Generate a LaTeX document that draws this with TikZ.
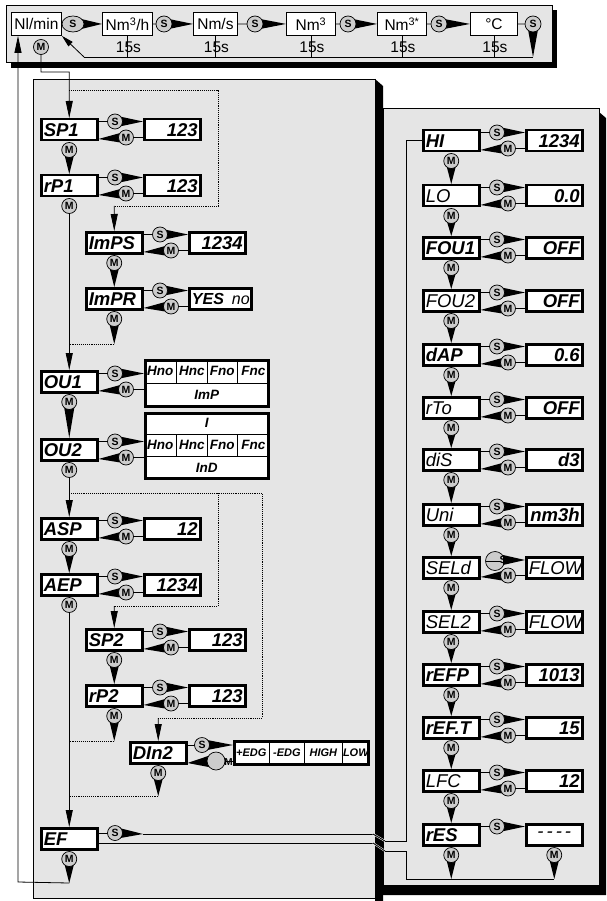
\documentclass[tikz,border=0pt]{standalone}
\usepackage{fontspec}
\setmainfont{Liberation Sans}
\usetikzlibrary{arrows.meta,calc,shapes.geometric}
\definecolor{panel}{gray}{0.9}
\definecolor{bub}{gray}{0.8}
\newcommand\lcdfont{\fontsize{18.5}{18.5}\selectfont\bfseries\itshape}
\newcommand\cellfont{\fontsize{13.5}{13.5}\selectfont\bfseries\itshape}
\newcommand\dcellfont{\fontsize{11}{11}\selectfont\bfseries\itshape}
\newcommand\cone[3][6pt]{\fill ($(#2)!#1!90:(#3)$) -- (#3) -- ($(#2)!#1!-90:(#3)$) -- cycle;}
\tikzset{
 conn/.style={line width=0.8pt},
 arr/.style={line width=0.8pt, -{Triangle[length=17pt,width=7pt]}},
 dots/.style={line width=0.9pt, densely dotted},
 lbox/.style={draw, line width=2.5pt, fill=white, minimum width=56pt, minimum height=21pt, inner sep=0pt, text width=51pt, align=left, font=\lcdfont, anchor=north west},
 vbox/.style={lbox, align=right},
 cell/.style={draw, line width=0.7pt, fill=white, inner sep=0pt, font=\cellfont, anchor=north west},
 obox/.style={draw, line width=2.5pt, inner sep=0pt, anchor=north west},
 circ/.style={circle, draw, line width=0.7pt, fill=bub, minimum size=15pt, inner sep=0pt, font=\fontsize{10.5}{10.5}\selectfont\bfseries},
 tbox/.style={draw, line width=0.9pt, fill=white, minimum height=23pt, inner sep=0pt, font=\fontsize{15.5}{15.5}\selectfont, anchor=north west},
 tlab/.style={font=\fontsize{15.5}{15.5}\selectfont, inner sep=0pt},
 brk/.style={white, line width=0.5pt, double=black, double distance=0.9pt},
}
% S/M connectors between a left box and its value box
\newcommand\conns[4]{%
 \coordinate (#1sc) at ({#3+75},{#4+3.5});
 \coordinate (#1mc) at ({#3+86},{#4+19.5});
 \draw[conn] (#1.east |- #1sc) -- (#1sc);
 \cone{#1sc}{#2.west |- #1sc}
 \draw[conn] (#2.west |- #1mc) -- (#1mc);
 \coordinate (#1mt) at ($(#1.east |- #1mc)+(0,1.5)$);
 \cone{#1mc}{#1mt}
 \node[circ] (#1s) at (#1sc) {S};
 \node[circ] (#1m) at (#1mc) {M};
}
\newcommand\srow[5]{%
 \node[lbox] (#1) at (#2,#3) {#4};
 \node[vbox] (#1v) at ({#2+103},#3) {#5};
 \conns{#1}{#1v}{#2}{#3}
}
% vertical M cone from one box to the next
\newcommand\vm[3]{%
 \coordinate (#1c) at ($(#2.south)+(0,8.5)$);
 \cone{#1c}{#1c |- #3.north}
 \node[circ] (#1) at (#1c) {M};
}
% vertical M with a line and arrow to a box
\newcommand\ma[3]{%
 \coordinate (#1c) at ($(#2.south)+(0,8.5)$);
 \node[circ] (#1) at (#1c) {M};
 \draw[arr] (#1.south) -- (#1c |- #3.north);
}
% vertical M cone of given length
\newcommand\mt[3]{%
 \coordinate (#1c) at ($(#2.south)+(0,8.5)$);
 \coordinate (#1t) at ($(#1c)+(0,#3)$);
 \cone{#1c}{#1t}
 \node[circ] (#1) at (#1c) {M};
}
\begin{document}
\begin{tikzpicture}[x=1pt,y=-1pt]
\useasboundingbox (0,0) rectangle (606,901);
\fill[white] (0,0) rectangle (606,901);
% ---- top bar
\fill (11,10) rectangle (557,68);
\draw[line width=0.8pt, fill=panel] (6,5) rectangle (552,62);
% ---- panels
\fill (599,112) -- (606,118) -- (606,895) -- (383,895) -- (383,885) -- (599,885) -- cycle;
\draw[line width=0.8pt, fill=panel] (383,108) rectangle (599,885);
\draw[line width=0.8pt, fill=panel] (33,79) rectangle (375,898);
\fill (375,79) -- (383,86) -- (383,901) -- (375,901) -- cycle;

% ---- top bar content
\node[tbox, minimum width=50pt] (nlm) at (11,12) {Nl/min};
\node[tbox, minimum width=50pt] (nmh) at (102,12) {Nm\textsuperscript{3}/h};
\node[tbox, minimum width=44pt] (nms) at (193,12) {Nm/s};
\node[tbox, minimum width=49pt] (nm3) at (286,12) {Nm\textsuperscript{3}};
\node[tbox, minimum width=49pt] (nms3) at (377,12) {Nm\textsuperscript{3*}};
\node[tbox, minimum width=47pt] (degc) at (470,12) {°C};

\coordinate (s1c) at (73,24);
\cone[7pt]{s1c}{nmh.west}
\node[ellipse, draw, line width=0.7pt, fill=bub, minimum width=22pt, minimum height=16pt, inner sep=0pt, font=\fontsize{10.5}{10.5}\selectfont\bfseries] (s1) at (s1c) {S};
\coordinate (s2c) at (164,24);
\draw[conn] (nmh.east) -- (s2c); \cone{s2c}{nms.west}
\node[circ, minimum size=16pt] (s2) at (s2c) {S};
\coordinate (s3c) at (255,24);
\draw[conn] (nms.east) -- (s3c); \cone{s3c}{nm3.west}
\node[circ, minimum size=16pt] (s3) at (s3c) {S};
\coordinate (s4c) at (348,24);
\draw[conn] (nm3.east) -- (s4c); \cone{s4c}{nms3.west}
\node[circ, minimum size=16pt] (s4) at (s4c) {S};
\coordinate (s5c) at (439,24);
\draw[conn] (nms3.east) -- (s5c); \cone{s5c}{degc.west}
\node[circ, minimum size=16pt] (s5) at (s5c) {S};
\coordinate (s6c) at (533,24);
\coordinate (fb1) at (533,57);
\coordinate (fb2) at (84,57);
\draw[conn] (degc.east) -- (s6c);
\cone{s6c}{fb1}
\node[circ, minimum size=16pt] (s6) at (s6c) {S};
\draw[conn] (fb1) -- (fb2);
\draw[conn, -{Triangle[length=12pt,width=6pt]}] (fb2) -- (nlm.south east);
\foreach \b in {nmh,nms,nm3,nms3,degc}{
  \draw[conn] (\b.south) -- (\b.south |- fb1);
  \node[tlab] at ($(\b.south)+(1,11)$) {15s};
}
\node[circ] (nlmm) at (41,47) {M};

% ---- left panel boxes
\srow{sp1}{40}{118}{SP1}{123}
\srow{rp1}{40}{174}{rP1}{123}
\srow{imps}{85}{231}{ImPS}{1234}
\node[lbox] (impr) at (85,287) {ImPR};
\node[vbox, minimum width=62pt, text width=59pt, font=\fontsize{16}{16}\selectfont\bfseries\itshape] (imprv) at (188,287) {YES\hspace{8pt}\mdseries no};
\conns{impr}{imprv}{85}{287}

% OU1
\node[lbox] (ou1) at (40,370) {OU1};
\node[cell, minimum width=32pt, minimum height=24pt] (ou1a) at (144,359) {Hno};
\node[cell, minimum width=31pt, minimum height=24pt] (ou1b) at (176,359) {Hnc};
\node[cell, minimum width=30pt, minimum height=24pt] (ou1c) at (207,359) {Fno};
\node[cell, minimum width=32pt, minimum height=24pt] (ou1d) at (237,359) {Fnc};
\node[cell, minimum width=125pt, minimum height=24pt] (ou1e) at (144,383) {ImP};
\node[obox, minimum width=123pt, minimum height=46pt] (ou1o) at (144,359) {};
\conns{ou1}{ou1o}{40}{370}

% OU2
\node[lbox] (ou2) at (40,438) {OU2};
\node[cell, minimum width=125pt, minimum height=22pt] (ou2a) at (144,412) {I};
\node[cell, minimum width=32pt, minimum height=22pt] (ou2b) at (144,434) {Hno};
\node[cell, minimum width=31pt, minimum height=22pt] (ou2c) at (176,434) {Hnc};
\node[cell, minimum width=30pt, minimum height=22pt] (ou2d) at (207,434) {Fno};
\node[cell, minimum width=32pt, minimum height=22pt] (ou2e) at (237,434) {Fnc};
\node[cell, minimum width=125pt, minimum height=23pt] (ou2f) at (144,456) {InD};
\node[obox, minimum width=123pt, minimum height=65pt] (ou2o) at (144,412) {};
\conns{ou2}{ou2o}{40}{438}

\srow{asp}{40}{517}{ASP}{12}
\srow{aep}{40}{573}{AEP}{1234}
\srow{sp2}{85}{628}{SP2}{123}
\srow{rp2}{85}{684}{rP2}{123}

% DIn2
\node[lbox] (din2) at (129,741) {DIn2};
\node[cell, minimum width=36pt, minimum height=25pt, font=\dcellfont] (din2a) at (233,740) {+EDG};
\node[cell, minimum width=35pt, minimum height=25pt, font=\dcellfont] (din2b) at (269,740) {-EDG};
\node[cell, minimum width=38pt, minimum height=25pt, font=\dcellfont] (din2c) at (304,740) {HIGH};
\node[cell, minimum width=27pt, minimum height=25pt, font=\dcellfont] (din2d) at (342,740) {LOW};
\node[obox, minimum width=134pt, minimum height=23pt] (din2o) at (233,740) {};
\coordinate (din2sc) at (202,745);
\coordinate (din2mc) at (216,761);
\draw[conn] (din2.east |- din2sc) -- (din2sc);
\cone{din2sc}{din2o.west |- din2sc}
\draw[conn] (din2o.west |- din2mc) -- (din2mc);
\coordinate (din2mt) at ($(din2.east |- din2mc)+(0,2)$);
\cone[7.5pt]{din2mc}{din2mt}
\node[circ] (din2s) at (din2sc) {S};
\node[circle, draw, line width=0.7pt, fill=bub, minimum size=18pt, inner sep=0pt] (din2m) at (din2mc) {};
\node[font=\fontsize{10}{10}\selectfont\bfseries, inner sep=0pt] (din2ml) at (228.5,762) {M};

% EF
\node[lbox] (ef) at (40,827) {EF};

% ---- right panel boxes
\srow{hi}{422}{129}{HI}{1234}
\srow{lo}{422}{184}{\mdseries LO}{0.0}
\srow{fou1}{422}{236}{FOU1}{OFF}
\srow{fou2}{422}{289}{\mdseries FOU2}{OFF}
\srow{dap}{422}{343}{dAP}{0.6}
\srow{rto}{422}{396}{\mdseries rTo}{OFF}
\srow{dis}{422}{448}{\mdseries diS}{d3}
\srow{uni}{422}{503}{\mdseries Uni}{nm3h}
% SELd
\node[lbox] (seld) at (422,556) {\mdseries SELd};
\node[vbox] (seldv) at (525,556) {\mdseries FLOW};
\coordinate (seldbc) at (495,561);
\coordinate (seldmc) at (508,575.5);
\node[circle, draw, line width=0.7pt, fill=bub, minimum size=19pt, inner sep=0pt] (seldbig) at (seldbc) {};
\draw[conn] (486,561) -- (500,561);
\coordinate (seldsc) at (503,560);
\cone[5pt]{seldsc}{seldv.west |- seldsc}
\node[font=\fontsize{10.5}{10.5}\selectfont\bfseries, inner sep=0pt] (selds) at (seldsc) {S};
\draw[conn] (seldv.west |- seldmc) -- (seldmc);
\coordinate (seldmt) at ($(seld.east |- seldmc)+(0,1.5)$);
\cone{seldmc}{seldmt}
\node[circ] (seldm) at (seldmc) {M};

\srow{sel2}{422}{610}{\mdseries SEL2}{\mdseries FLOW}
\srow{refp}{422}{663}{rEFP}{1013}
\srow{reft}{422}{716}{rEF.T}{15}
\srow{lfc}{422}{769}{\mdseries LFC}{12}
% rES
\node[lbox] (res) at (422,823) {rES};
\node[vbox, align=center] (resv) at (525,823) {\mdseries -\hspace{3pt}-\hspace{3pt}-\hspace{3pt}-};
\coordinate (ressc) at (497,826.5);
\draw[conn] (res.east |- ressc) -- (ressc);
\cone{ressc}{resv.west |- ressc}
\node[circ] (ress) at (ressc) {S};

% ---- vertical flow, left panel
\draw[arr] (nlmm.south) -- (41,72) -- (69.2,72) -- (sp1.north);
\vm{sp1mm}{sp1}{rp1}
\ma{rp1mm}{rp1}{ou1}
\vm{impsmm}{imps}{impr}
\mt{imprmm}{impr}{25}
\vm{ou1mm}{ou1}{ou2}
\ma{ou2mm}{ou2}{asp}
\vm{aspmm}{asp}{aep}
\ma{aepmm}{aep}{ef}
\vm{sp2mm}{sp2}{rp2}
\mt{rp2mm}{rp2}{25}
\mt{din2mm}{din2}{23}
\mt{efmm}{ef}{24}

% dotted branches
\coordinate (j1) at (69.2,90);
\coordinate (j2) at (114.2,206);
\draw[dots] (j1) -- (218,90) -- (218,206) -- (j2);
\draw[arr] (j2) -- (imps.north);
\draw[dots] (imprmmt) -- (imprmmt -| sp1.south);
\coordinate (j3) at (69.2,493);
\coordinate (j4) at (158.2,718);
\coordinate (j5) at (114.2,606);
\draw[dots] (j3) -- (262,493) -- (262,718) -- (j4);
\draw[arr] (j4) -- (din2.north);
\draw[dots] (218,493) -- (218,606) -- (j5);
\draw[arr] (j5) -- (sp2.north);
\draw[dots] (rp2mmt) -- (rp2mmt -| sp1.south);
\draw[dots] (din2mmt) -- (din2mmt -| sp1.south);

% return to the top bar
\coordinate (fl) at (18,882);
\draw[arr] (efmmt) -- (fl) -- (fl |- nlm.south);

% EF connections to the right panel
\coordinate (efsc) at (115,833);
\coordinate (efst) at (143,834);
\draw[conn] (ef.east |- efsc) -- (efsc);
\cone{efsc}{efst}
\node[circ] (efs) at (efsc) {S};
\coordinate (b1a) at (373,834);
\coordinate (b1b) at (385,841);
\coordinate (rv1) at (406,841);
\draw[conn] (efst) -- (b1a);
\draw[brk] (b1a) -- (b1b);
\draw[conn] (b1b) -- (rv1) -- (rv1 |- hi.west) -- (hi.west);
\coordinate (b2a) at (373,843);
\coordinate (b2b) at (385,851);
\coordinate (rv2) at (406,851);
\coordinate (rb) at (406,879);
\draw[conn] (ef.east |- b2a) -- (b2a);
\draw[brk] (b2a) -- (b2b);

% ---- vertical flow, right panel
\vm{himm}{hi}{lo}
\vm{lomm}{lo}{fou1}
\vm{fou1mm}{fou1}{fou2}
\vm{fou2mm}{fou2}{dap}
\vm{dapmm}{dap}{rto}
\vm{rtomm}{rto}{dis}
\vm{dismm}{dis}{uni}
\vm{unimm}{uni}{seld}
\vm{seldmm}{seld}{sel2}
\vm{sel2mm}{sel2}{refp}
\vm{refpmm}{refp}{reft}
\vm{reftmm}{reft}{lfc}
\vm{lfcmm}{lfc}{res}
\coordinate (resmc) at ($(res.south)+(0,8.5)$);
\coordinate (resvmc) at ($(resv.south)+(0,8.5)$);
\draw[conn] (b2b) -- (rv2) -- (rb) -- (rb -| resvmc);
\cone{resmc}{resmc |- rb}
\cone{resvmc}{resvmc |- rb}
\node[circ] (resm) at (resmc) {M};
\node[circ] (resvm) at (resvmc) {M};
\end{tikzpicture}
\end{document}
